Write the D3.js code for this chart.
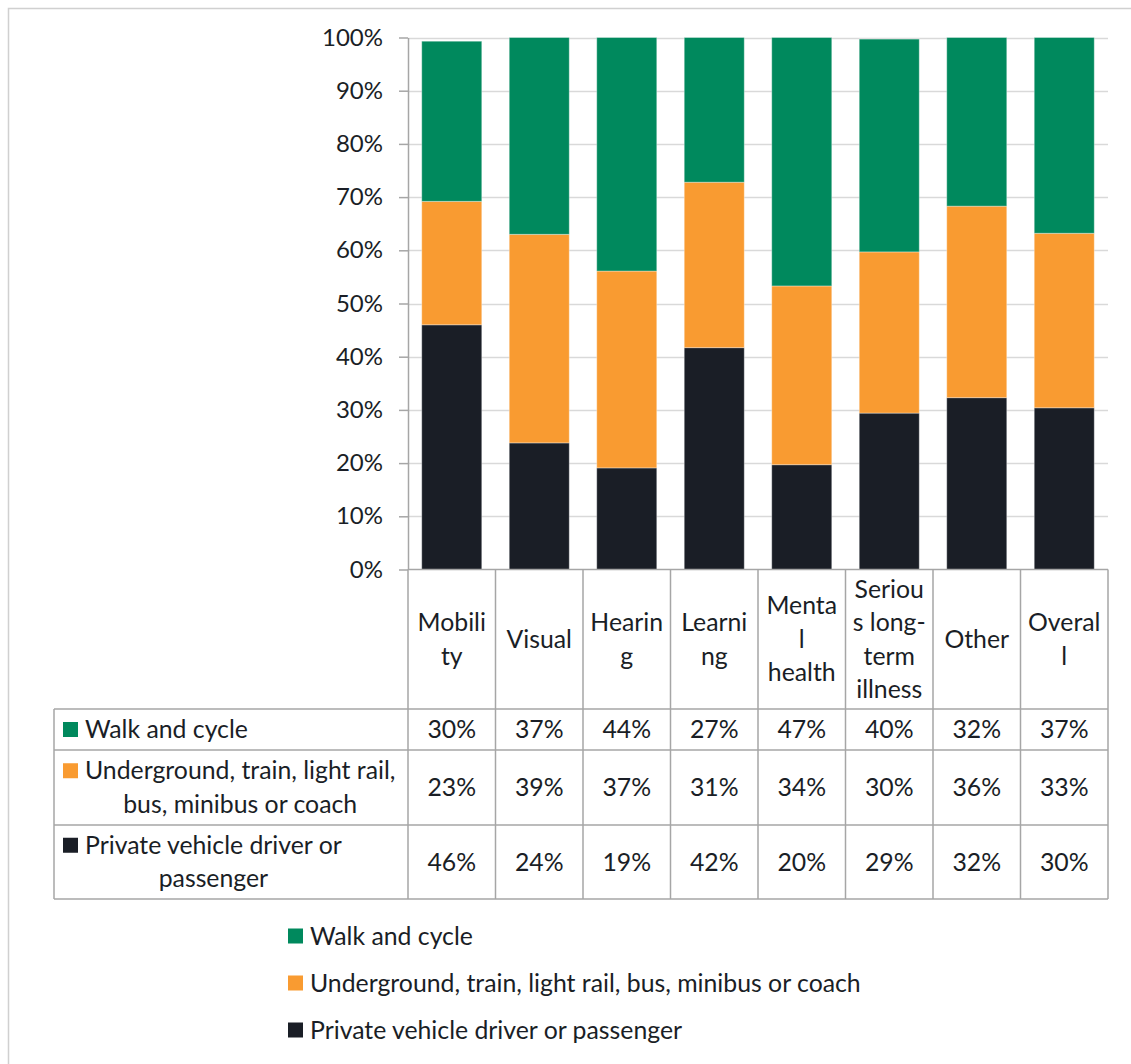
<!DOCTYPE html>
<html lang="en">

<head>
  <meta charset="UTF-8">
  <title>Travel mode by impairment</title>
  <style>
    html,
    body {
      margin: 0;
      padding: 0;
      background: #fff;
    }

    text {
      font-family: Lato, 'Open Sans', sans-serif;
      fill: #1a1e26;
    }
  </style>
  <script src="https://cdnjs.cloudflare.com/ajax/libs/d3/7.8.5/d3.min.js"></script>
</head>

<body>
  <svg id="chart" width="1131" height="1064"></svg>
  <script>
    //
    // Data
    //

    var categories = ['Mobility', 'Visual', 'Hearing', 'Learning', 'Mental health', 'Serious long-term illness', 'Other', 'Overall']
    // header labels wrapped the way the original table breaks them
    var categoryLines = [['Mobili', 'ty'], ['Visual'], ['Hearin', 'g'], ['Learni', 'ng'], ['Menta', 'l', 'health'], ['Seriou', 's long-', 'term', 'illness'], ['Other'], ['Overal', 'l']]

    var seriesKeys = ['private', 'underground', 'walk']
    var seriesNames = ['Private vehicle driver or passenger', 'Underground, train, light rail, bus, minibus or coach', 'Walk and cycle']
    var seriesLines = [['Private vehicle driver or', 'passenger'], ['Underground, train, light rail,', 'bus, minibus or coach'], ['Walk and cycle']]
    var seriesColors = ['#1a1e26', '#f99b31', '#00895d']

    // shares in percent
    var privateShare = [46.0, 23.8, 19.1, 41.7, 19.7, 29.4, 32.3, 30.4]
    var undergroundShare = [23.2, 39.2, 37.0, 31.1, 33.6, 30.3, 36.0, 32.8]
    var walkShare = [30.1, 37.0, 43.9, 27.2, 46.7, 40.0, 31.7, 36.8]

    var yTicks = [0, 0.1, 0.2, 0.3, 0.4, 0.5, 0.6, 0.7, 0.8, 0.9, 1]

    //
    // Layout
    //

    var fontSize = 24.8
    var tickFontSize = 24
    var left = 408, right = 1108
    var plotTop = 37.5, base = 569.5
    var tableTop = 709, rowBottoms = [750, 825, 899]
    var tableLeft = 54
    var gridColor = '#d9d9d9'
    var lineColor = '#a6a6a6'

    var svg = d3.select('#chart')

    var rows = categories.map(function (c, i) {
      return { cat: c, private: privateShare[i] / 100, underground: undergroundShare[i] / 100, walk: walkShare[i] / 100 }
    })

    var x = d3.scaleBand().domain(categories).range([left, right]).paddingInner(0.314).paddingOuter(0.157)
    var col = d3.scaleBand().domain(categories).range([left, right])
    var y = d3.scaleLinear().domain([0, 1]).range([base, plotTop])
    var color = d3.scaleOrdinal().domain(seriesKeys).range(seriesColors)

    // outer frame
    svg.append('rect')
      .attr('x', 8.5).attr('y', 8.5).attr('width', 1140).attr('height', 1080)
      .attr('fill', 'none').attr('stroke', '#d0d0d0').attr('stroke-width', 1.5)

    // gridlines
    svg.append('g').selectAll('line')
      .data(yTicks.filter(function (d) { return d > 0 }))
      .join('line')
      .attr('x1', left).attr('x2', right)
      .attr('y1', function (d) { return Math.round(y(d)) + 0.5 })
      .attr('y2', function (d) { return Math.round(y(d)) + 0.5 })
      .attr('stroke', gridColor).attr('stroke-width', 1.5)

    // bars
    var stack = d3.stack().keys(seriesKeys)(rows)
    svg.append('g').selectAll('g')
      .data(stack)
      .join('g')
      .attr('fill', function (d) { return color(d.key) })
      .selectAll('rect')
      .data(function (d) { return d })
      .join('rect')
      .attr('x', function (d) { return x(d.data.cat) })
      .attr('width', x.bandwidth())
      .attr('y', function (d) { return y(d[1]) })
      .attr('height', function (d) { return y(d[0]) - y(d[1]) })
      .attr('stroke', '#ffffff').attr('stroke-opacity', 0.35).attr('stroke-width', 1)

    // y axis
    var yAxis = svg.append('g')
      .attr('transform', 'translate(' + left + ',0)')
      .call(d3.axisLeft(y).tickValues(yTicks).tickFormat(d3.format('.0%')).tickSize(9).tickSizeOuter(0).tickPadding(16))
    yAxis.select('.domain').attr('stroke', lineColor).attr('stroke-width', 1.5)
    yAxis.selectAll('.tick line').attr('stroke', lineColor).attr('stroke-width', 1.5)
    yAxis.selectAll('.tick text')
      .attr('font-size', tickFontSize).attr('fill', '#1a1e26')
      .style('font-family', 'Lato, sans-serif')

    // table grid
    var grid = svg.append('g').attr('stroke', lineColor).attr('stroke-width', 1.5)
    grid.append('line').attr('x1', left).attr('x2', right).attr('y1', base).attr('y2', base)
    grid.selectAll('line.col')
      .data(categories.concat(['end']))
      .join('line')
      .attr('class', 'col')
      .attr('x1', function (d, i) { return left + i * col.step() })
      .attr('x2', function (d, i) { return left + i * col.step() })
      .attr('y1', base).attr('y2', rowBottoms[2])
    grid.selectAll('line.row')
      .data([tableTop].concat(rowBottoms))
      .join('line')
      .attr('class', 'row')
      .attr('x1', tableLeft).attr('x2', right)
      .attr('y1', function (d) { return d }).attr('y2', function (d) { return d })
    grid.append('line').attr('x1', tableLeft).attr('x2', tableLeft).attr('y1', tableTop).attr('y2', rowBottoms[2])

    // header labels
    var lineGap = 33.5
    var headerMid = (base + tableTop) / 2
    var header = svg.append('g').selectAll('text')
      .data(categories)
      .join('text')
      .attr('font-size', fontSize)
      .attr('text-anchor', 'middle')
    header.each(function (c, i) {
      var lines = categoryLines[i]
      var y0 = headerMid - (lines.length - 1) * lineGap / 2
      d3.select(this).selectAll('tspan')
        .data(lines)
        .join('tspan')
        .attr('x', col(c) + col.bandwidth() / 2)
        .attr('y', function (d, j) { return y0 + j * lineGap })
        .attr('dy', '0.35em')
        .text(function (d) { return d })
    })

    // table rows, top to bottom: walk, underground, private
    var tableOrder = [2, 1, 0]
    var shares = [privateShare, undergroundShare, walkShare]
    tableOrder.forEach(function (s, r) {
      var rowTop = r === 0 ? tableTop : rowBottoms[r - 1]
      var rowMid = (rowTop + rowBottoms[r]) / 2
      var lines = seriesLines[s]
      var y0 = rowMid - (lines.length - 1) * lineGap / 2
      var g = svg.append('g')

      g.append('rect')
        .attr('x', 63).attr('y', y0 - 7.5).attr('width', 15).attr('height', 15)
        .attr('fill', seriesColors[s])

      var label = g.append('g').selectAll('text')
        .data(lines)
        .join('text')
        .attr('font-size', fontSize)
        .attr('text-anchor', 'middle')
        .attr('y', function (d, j) { return y0 + j * lineGap })
        .attr('dy', '0.35em')
        .text(function (d) { return d })
      var widest = d3.max(label.nodes(), function (n) { return n.getComputedTextLength() })
      label.attr('x', 85 + widest / 2)

      g.append('g').selectAll('text')
        .data(shares[s])
        .join('text')
        .attr('font-size', fontSize)
        .attr('text-anchor', 'middle')
        .attr('x', function (d, i) { return col(categories[i]) + col.bandwidth() / 2 })
        .attr('y', rowMid)
        .attr('dy', '0.35em')
        .text(function (d) { return Math.round(d) + '%' })
    })

    // legend
    var legend = svg.append('g').selectAll('g')
      .data(tableOrder)
      .join('g')
      .attr('transform', function (d, i) { return 'translate(288,' + (936 + i * 47) + ')' })
    legend.append('rect')
      .attr('x', 0).attr('y', -7.5).attr('width', 15).attr('height', 15)
      .attr('fill', function (d) { return seriesColors[d] })
    legend.append('text')
      .attr('x', 22).attr('dy', '0.35em')
      .attr('font-size', fontSize)
      .text(function (d) { return seriesNames[d] })
  </script>
</body>

</html>
